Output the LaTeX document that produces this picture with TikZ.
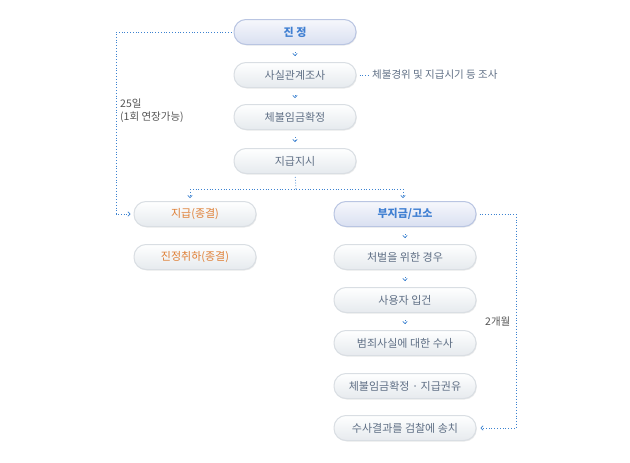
\documentclass[tikz,border=0pt]{standalone}
\usepackage{fontspec}
\setmainfont{Noto Sans CJK KR}
\usetikzlibrary{arrows.meta,shadows}
\definecolor{txtgray}{HTML}{5F6F85}
\definecolor{txtblue}{HTML}{3F7FD2}
\definecolor{txtorange}{HTML}{DF7F35}
\definecolor{lineblue}{HTML}{3C82D0}
\definecolor{boxborder}{HTML}{D9DEE3}
\definecolor{boxtop}{HTML}{FFFFFF}
\definecolor{boxbot}{HTML}{E6EAEE}
\definecolor{bluetop}{HTML}{F6F7FC}
\definecolor{bluebot}{HTML}{D9E0F1}
\definecolor{blueborder}{HTML}{B9C5E2}
\definecolor{labelgray}{HTML}{555555}
\tikzset{
  pill/.style={rounded corners=12pt, minimum width=122pt, minimum height=25pt,
    draw=boxborder, line width=1pt, top color=boxtop, bottom color=boxbot,
    text=txtgray, font=\fontsize{11}{12}\selectfont, inner sep=0pt,
    drop shadow={shadow xshift=0.8pt, shadow yshift=-1pt, opacity=0.15}},
  widepill/.style={pill, minimum width=142pt},
  bluepill/.style={draw=blueborder, top color=bluetop, bottom color=bluebot,
    text=txtblue, font=\fontsize{11}{12}\selectfont\bfseries},
  orangetxt/.style={text=txtorange},
  dotline/.style={draw=lineblue, dotted, line width=0.8pt},
  dotarrow/.style={dotline, -{Straight Barb[length=2.2pt,width=4.5pt,line width=0.7pt]}},
  smallarrow/.style={dotarrow, shorten <=7pt, shorten >=6pt},
  lbl/.style={text=labelgray, font=\fontsize{10.5}{13}\selectfont, inner sep=0pt, align=left},
}
\begin{document}
\begin{tikzpicture}[x=1pt,y=-1pt]
\useasboundingbox (0,0) rectangle (630,463);
% left column
\node[pill,bluepill] (jinjeong) at (295,32) {진 정};
\node[pill] (sasil) at (295,75) {사실관계조사};
\node[pill] (chebul) at (295,117) {체불임금확정};
\node[pill] (jigeupjisi) at (295,161) {지급지시};
\node[pill,orangetxt] (jigeup) at (195,214) {지급(종결)};
\node[pill,orangetxt] (chwiha) at (195,257) {진정취하(종결)};
% right column
\node[widepill,bluepill] (bujigeup) at (405,214) {부지금/고소};
\node[widepill] (cheobeol) at (405,257) {처벌을 위한 경우};
\node[widepill] (ipgeon) at (405,300) {사용자 입건};
\node[widepill] (beomjoe) at (405,343) {범죄사실에 대한 수사};
\node[widepill] (kwonyu) at (405,386) {체불임금확정 · 지급권유};
\node[widepill] (songchi) at (405,428) {수사결과를 검찰에 송치};
% side labels
\node[lbl, text=txtgray, anchor=west] (josa) at (372,75) {체불경위 및 지급시기 등 조사};
\node[lbl, anchor=north west] (days) at (120,99) {25일\\(1회 연장가능)};
\node[lbl, anchor=west] (months) at (485,322) {2개월};
% coordinates
\coordinate (jl) at (116,32);
\coordinate (jb) at (116,214);
\coordinate (br) at (296,189);
\coordinate (brl) at (190,189);
\coordinate (brr) at (403,189);
\coordinate (rr) at (516,214);
\coordinate (rb) at (516,428);
% connectors
\draw[smallarrow] (jinjeong) -- (sasil);
\draw[smallarrow] (sasil) -- (chebul);
\draw[smallarrow] (chebul) -- (jigeupjisi);
\draw[smallarrow] (bujigeup) -- (cheobeol);
\draw[smallarrow] (cheobeol) -- (ipgeon);
\draw[smallarrow] (ipgeon) -- (beomjoe);
\draw[dotline, shorten <=3pt] (jigeupjisi.south) -- (br);
\draw[dotline] (brl) -- (brr);
\draw[dotarrow, shorten >=3pt] (brl) -- (brl |- jigeup.north);
\draw[dotarrow, shorten >=3pt] (brr) -- (brr |- bujigeup.north);
\draw[dotarrow, shorten <=2pt, shorten >=3pt] (jinjeong.west) -- (jl) -- (jb) -- (jigeup.west);
\draw[dotarrow, shorten <=3pt, shorten >=4pt] (bujigeup.east) -- (rr) -- (rb) -- (songchi.east);
\draw[dotline, shorten <=3pt, shorten >=4pt] (sasil.east) -- (josa.west);
\end{tikzpicture}
\end{document}
